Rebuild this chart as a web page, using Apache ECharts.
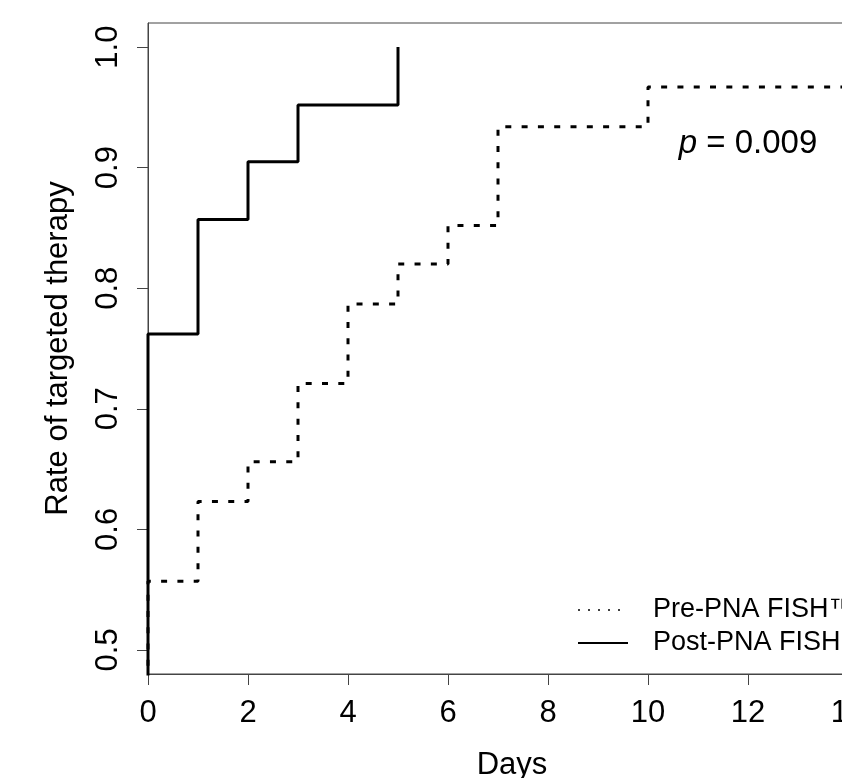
<!DOCTYPE html>
<html>
<head>
<meta charset="utf-8">
<script src="https://cdn.jsdelivr.net/npm/echarts@6/dist/echarts.min.js"></script>
<style>
html, body { margin: 0; padding: 0; background: #fff; }
/* the plot runs past the right edge of the window, as in the source figure */
#wrap { position: relative; width: 842px; height: 778px; overflow: hidden; }
#chart { position: absolute; left: 0; top: 0; width: 876px; height: 778px; }
</style>
</head>
<body>
<div id="wrap"><div id="chart"></div></div>
<script>
// step curves: [day, rate]
var preDays  = [0, 0, 1, 2, 3, 4, 5, 6, 7, 10, 14];
var preRate  = [0, 0.557, 0.623, 0.656, 0.721, 0.787, 0.820, 0.852, 0.934, 0.967, 0.967];
var postDays = [0, 0, 1, 2, 3, 5];
var postRate = [0, 0.762, 0.857, 0.905, 0.952, 1.0];
var xTicks = [0, 2, 4, 6, 8, 10, 12, 14];
var yTicks = [0.5, 0.6, 0.7, 0.8, 0.9, 1.0];
var pLabel = { x: 12, y: 0.92, text: '0.009' };

function pairs(xs, ys) {
  return xs.map(function (x, i) { return [x, ys[i]]; });
}

var font = 'Liberation Sans, Arial, sans-serif';
var axisCol = '#444';

var chart = echarts.init(document.getElementById('chart'));
var option = {
  backgroundColor: '#fff',
  animation: false,
  textStyle: { fontFamily: font, color: '#000' },
  grid: {
    left: 148, top: 23, bottom: 104, right: 0,
    show: true, borderColor: axisCol, borderWidth: 1,
    containLabel: false, outerBoundsMode: 'none'
  },
  legend: {
    orient: 'vertical',
    left: 577, top: 595, padding: 0,
    itemWidth: 50, itemHeight: 14, itemGap: 3,
    textStyle: { fontSize: 27, color: '#000', lineHeight: 30, fontFamily: font,
      padding: [0, 0, 0, 20] },
    data: [
      { name: 'Pre-PNA FISH™', itemStyle: { opacity: 0 },
        lineStyle: { width: 1.5, type: [2, 8], color: '#000' } },
      { name: 'Post-PNA FISH™', itemStyle: { opacity: 0 },
        lineStyle: { width: 2, type: 'solid', color: '#000' } }
    ]
  },
  xAxis: {
    type: 'value', min: 0, max: 14.56,
    name: 'Days', nameLocation: 'middle', nameGap: 76,
    nameTextStyle: { fontSize: 31, color: '#000' },
    axisLine: { show: true, onZero: false, lineStyle: { color: axisCol, width: 1 } },
    axisTick: { show: true, length: 11, customValues: xTicks, lineStyle: { color: axisCol } },
    axisLabel: { fontSize: 31, color: '#000', margin: 24, customValues: xTicks },
    splitLine: { show: false }
  },
  yAxis: {
    type: 'value', min: 0.48, max: 1.02,
    name: 'Rate of targeted therapy', nameLocation: 'middle', nameGap: 74,
    nameTextStyle: { fontSize: 31, color: '#000' },
    axisLine: { show: true, onZero: false, lineStyle: { color: axisCol, width: 1 } },
    axisTick: { show: true, length: 11, customValues: yTicks, lineStyle: { color: axisCol } },
    axisLabel: { fontSize: 31, color: '#000', margin: 24, rotate: 90, customValues: yTicks,
      formatter: function (v) { return v.toFixed(1); } },
    splitLine: { show: false }
  },
  series: [
    {
      name: 'Pre-PNA FISH™', type: 'line', step: 'end',
      data: pairs(preDays, preRate),
      symbol: 'none', clip: true,
      lineStyle: { color: '#000', width: 3, type: [6, 10.3], cap: 'butt' },
      itemStyle: { color: '#000' }
    },
    {
      name: 'Post-PNA FISH™', type: 'line', step: 'end',
      data: pairs(postDays, postRate),
      symbol: 'none', clip: true,
      lineStyle: { color: '#000', width: 3, type: 'solid' },
      itemStyle: { color: '#000' },
      markPoint: {
        symbol: 'circle', symbolSize: 0, silent: true,
        label: {
          show: true, position: 'inside', color: '#000', fontSize: 33,
          formatter: '{i|p} = ' + pLabel.text,
          rich: { i: { fontStyle: 'italic', fontSize: 33, fontFamily: font } }
        },
        data: [{ coord: [pLabel.x, pLabel.y] }]
      }
    }
  ]
};
chart.setOption(option);
</script>
</body>
</html>
